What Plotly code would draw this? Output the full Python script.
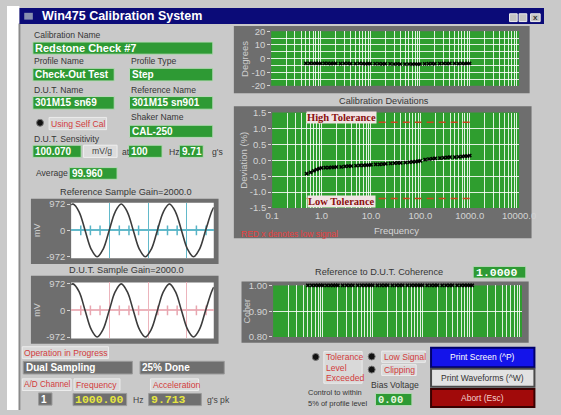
import plotly.graph_objects as go

W, H = 561, 415

# ---------------- data ----------------
freq_hz = [0.5, 0.6, 0.7, 0.8, 0.9, 1.0, 1.2, 1.4, 1.6, 1.8, 2.0, 2.5, 3.0, 3.5, 4.0,
           5.0, 6.0, 7.0, 8.0, 9.0, 10, 12.5, 15, 17.5, 20, 25, 30, 35, 40, 50, 60,
           70, 80, 90, 100, 125, 150, 175, 200, 250, 300, 350, 400, 500, 600, 700,
           800, 900, 1000]
deviation_pct = [-0.42, -0.38, -0.33, -0.29, -0.26, -0.24, -0.23, -0.23, -0.22, -0.22,
                 -0.21, -0.21, -0.19, -0.18, -0.18, -0.17, -0.16, -0.16, -0.15, -0.15,
                 -0.14, -0.13, -0.13, -0.12, -0.11, -0.10, -0.09, -0.08, -0.08, -0.07,
                 -0.06, -0.05, -0.04, -0.03, -0.02, 0.02, 0.04, 0.05, 0.06, 0.07, 0.08,
                 0.09, 0.10, 0.10, 0.11, 0.12, 0.13, 0.13, 0.15]
phase_deg = [-3.5, -3.5, -3.6, -3.5, -3.6, -3.6, -3.5, -3.6, -3.7, -3.6, -3.6, -3.7,
             -3.6, -3.6, -3.7, -3.7, -3.6, -3.7, -3.8, -3.7, -3.7, -3.8, -3.8, -3.9,
             -3.8, -3.9, -4.0, -3.9, -4.0, -4.1, -4.0, -4.1, -4.0, -4.1, -4.0, -3.9,
             -3.8, -3.7, -3.8, -3.7, -3.6, -3.7, -3.6, -3.6, -3.7, -3.6, -3.7, -3.6, -3.6]
coherence = [1.0] * 49
tol_freq_hz = [0.5, 1000]
tol_high_pct = [1.2, 1.2]
tol_low_pct = [-1.2, -1.2]

wave_t_ms = [0.00, 0.04, 0.165, 0.29, 0.415, 0.54, 0.665, 0.79, 0.915, 1.04, 1.165,
             1.29, 1.415, 1.54, 1.665, 1.79, 1.915, 2.04, 2.165, 2.29, 2.415, 2.54,
             2.665, 2.79, 2.915, 2.96]
ref_wave_mv = [942, 972, 687, 0, -687, -972, -687, 0, 687, 972, 687, 0, -687, -972,
               -687, 0, 687, 972, 687, 0, -687, -972, -687, 0, 687, 850]
dut_wave_mv = [942, 972, 687, 0, -687, -972, -687, 0, 687, 972, 687, 0, -687, -972,
               -687, 0, 687, 972, 687, 0, -687, -972, -687, 0, 687, 850]
wave_minor_tick_ms = [0.2, 0.4, 0.6, 1.0, 1.2, 1.4, 1.8, 2.0, 2.2, 2.6, 2.8]

freq_decades = [0.1, 1, 10, 100, 1000, 10000]
freq_tick_labels = ["0.1", "1.0", "10.0", "100.0", "1000.0", "10000.0"]
wave_tick_vals = [-972, 0, 972]
wave_tick_labels = ["-972", "0", "972"]

# ---------------- style ----------------
SANS = "Liberation Sans, Arial, sans-serif"
MONO = "Liberation Mono, Courier New, monospace"
SERIF = "Liberation Serif, Times New Roman, serif"
BG = "#c9c9c9"
FRAME = "#6e6e6e"
GREEN = "#2f9e2f"
BOXGREEN = "#2e9a34"
RED = "#d23c3c"
LABEL = "#363636"
LS = 8.6   # label font size
BS = 10    # box font size

def px(x):
    return x / W

def py(y):
    return 1 - y / H

shapes, annots = [], []

def rect(x0, y0, x1, y1, fill, line=None, lw=1):
    shapes.append(dict(type="rect", xref="paper", yref="paper", x0=px(x0), x1=px(x1),
                       y0=py(y1), y1=py(y0), fillcolor=fill,
                       line=dict(color=line or fill, width=lw if line else 0), layer="below"))

def circle(cx, cy, r, fill, line):
    shapes.append(dict(type="circle", xref="paper", yref="paper", x0=px(cx - r), x1=px(cx + r),
                       y0=py(cy + r), y1=py(cy - r), fillcolor=fill,
                       line=dict(color=line, width=1), layer="below"))

def text(x, y, s, size=LS, color=LABEL, anchor="left", bold=False, family=SANS, angle=0,
         bg=None):
    if bold:
        s = "<b>" + s + "</b>"
    d = dict(x=px(x), y=py(y), xref="paper", yref="paper", text=s, showarrow=False,
             xanchor=anchor, yanchor="middle", textangle=angle, borderpad=0,
             font=dict(size=size, color=color, family=family))
    if bg:
        d["bgcolor"] = bg
    annots.append(d)

def gbox(x0, y0, x1, y1, s, size=BS, color="white", family=SANS, fill=BOXGREEN, bold=True):
    rect(x0, y0, x1, y1, fill, "#b8d8b8" if fill == BOXGREEN else "#9a9a9a", 1)
    text(x0 + 1.5, (y0 + y1) / 2, s, size=size, color=color, bold=bold, family=family)

def redlabel(x0, y0, x1, y1, s, size=LS):
    rect(x0, y0, x1, y1, "#d9d9d9", "#ececec", 1)
    text(x0 + 1, (y0 + y1) / 2, s, size=size, color=RED)

# window chrome
rect(0, 0, 13, 415, "white")
rect(12, 18, 14, 415, "#8a8a8a")
rect(13, 2, 561, 18.5, "#0b0b78")
rect(18, 7, 27, 14, "#8890b0")
text(35, 10.5, "Win475 Calibration System", size=12.5, color="white", bold=True)
rect(525, 8, 533, 16, "#c4c4c4", "#eeeeee")
rect(535, 8, 543, 16, "#c4c4c4", "#eeeeee")
rect(547, 8, 557, 16, "#c4c4c4", "#eeeeee")
text(552, 12, "x", size=8, color="#333333", anchor="center", bold=True)

# left info panel
text(27, 29.5, "Calibration Name")
gbox(27, 37, 215, 49.5, "Redstone Check #7", size=11)
text(27, 57, "Profile Name")
text(129, 57, "Profile Type")
gbox(27, 64, 112, 77, "Check-Out Test")
gbox(128, 64, 215, 77, "Step")
text(27, 86, "D.U.T. Name")
text(129, 86, "Reference Name")
gbox(27, 93, 112, 106, "301M15 sn69")
gbox(128, 93, 215, 106, "301M15 sn901")
circle(34.5, 120, 3.6, "#111111", "#777777")
redlabel(44, 114.5, 104, 127, "Using Self Cal")
text(129, 114.5, "Shaker Name")
gbox(128, 122.5, 215, 135, "CAL-250")
text(27, 136.5, "D.U.T. Sensitivity")
gbox(27, 143, 77.5, 155.5, "100.070")
rect(80, 143, 115, 155.5, "#dcdcdc", "#eeeeee")
text(88, 149, "mV/g", color="#444444")
text(119, 150, "at")
gbox(127, 143, 162, 155.5, "100")
text(168, 150, "Hz")
gbox(180, 143, 205, 155.5, "9.71")
text(213, 150, "g's")
text(29, 171.5, "Average")
gbox(65, 166, 115, 178, "99.960")

# waveform frames
text(124.5, 191.5, "Reference Sample Gain=2000.0", size=9.2, anchor="center")
rect(25, 198, 221, 265, FRAME)
rect(67, 202, 216, 259, "white")
text(32, 230.5, "mV", size=9, color="#cccccc", anchor="center", angle=-90)
text(125, 271.5, "D.U.T. Sample Gain=2000.0", size=9.2, anchor="center")
rect(25, 277, 221, 347, FRAME)
rect(67, 284, 216, 341.5, "white")
text(32, 312.5, "mV", size=9, color="#cccccc", anchor="center", angle=-90)

# bottom-left status
redlabel(16, 350, 106, 362, "Operation in Progress")
gbox(17, 365, 131, 378, "Dual Sampling", fill="#6f6f6f")
gbox(139, 365, 227, 378, "25% Done", fill="#6f6f6f")
redlabel(16, 383, 67, 395, "A/D Channel", size=8.2)
redlabel(70, 383, 118, 395, "Frequency")
redlabel(150, 383, 200, 395, "Acceleration")
gbox(33, 397.5, 47, 410, "1", fill="#6f6f6f")
gbox(69, 398, 125, 410.5, "1000.00", size=11.5, color="#e6e640", family=MONO, fill="#6f6f6f")
text(131, 405, "Hz", color="#444444")
gbox(148, 398, 203, 410.5, "9.713", size=11.5, color="#e6e640", family=MONO, fill="#6f6f6f")
text(208, 405, "g's pk", color="#444444")

# right plots frames
rect(237, 20.5, 546, 89.5, FRAME)
rect(276, 26, 535, 82, GREEN)
text(248, 54, "Degrees", size=9.5, color="#cfcfcf", anchor="center", angle=-90)
text(394, 97.5, "Calibration Deviations", size=9.2, anchor="center")
rect(237, 103, 548, 238.5, FRAME)
rect(277, 109.5, 535, 207.5, GREEN)
text(247, 158.5, "Deviation (%)", size=9.5, color="#cfcfcf", anchor="center", angle=-90)
text(407, 230.5, "Frequency", size=9.5, color="#d6d6d6", anchor="center")
text(243, 234.5, "RED x denotes low signal", size=8.5, color="#ea4040")
text(349, 114.7, "High Tolerance", size=10.5, color="#8a0f0f", anchor="center", bold=True,
     family=SERIF, bg="#f1e4e4")
text(349, 200.5, "Low Tolerance", size=10.5, color="#8a0f0f", anchor="center", bold=True,
     family=SERIF, bg="#f1e4e4")
text(389, 273.5, "Reference to D.U.T. Coherence", size=9.2, anchor="center")
gbox(487, 267.5, 542, 279.5, "1.0000", size=11.5, family=MONO)
rect(245, 283, 545, 346, FRAME)
rect(278, 287, 538, 340, GREEN)
text(251, 313.5, "Coher", size=9, color="#cfcfcf", anchor="center", angle=-90)

# bottom-right indicators & buttons
circle(322.5, 360.5, 3.6, "#111111", "#777777")
rect(331, 355, 371, 387.5, "#d9d9d9", "#ececec", 1)
text(332, 361, "Tolerance", color=RED)
text(332, 371.5, "Level", color=RED)
text(332, 382, "Exceeded", color=RED)
circle(381, 360, 3.6, "#111111", "#777777")
redlabel(391.5, 354.5, 437, 366, "Low Signal")
circle(381, 373.5, 3.6, "#111111", "#777777")
redlabel(391.5, 368.5, 427.5, 379.5, "Clipping")
text(405, 389.5, "Bias Voltage", anchor="center")
text(313, 397.5, "Control to within", size=7.5)
text(313, 408.5, "5% of profile level", size=7.5)
gbox(385, 398, 423, 410.5, "0.00", size=10.5, family=MONO, color="#e8f8e0")
rect(443, 351, 551, 371, "#1414ea", "#00006a", 2)
text(497, 361, "Print Screen (^P)", size=8.5, color="white", anchor="center")
rect(443, 372.5, 551, 391, "#e2e2e2", "#4a4a4a", 2)
text(497, 381.8, "Print Waveforms (^W)", size=8.5, color="#333333", anchor="center")
rect(443, 393.5, 551, 412, "#a10a0a", "#3a0000", 2)
text(497, 402.8, "Abort (Esc)", size=8.5, color="#f4d0d0", anchor="center")

# ---------------- traces ----------------
mk = dict(symbol="x", size=3.8, color="black", line=dict(width=0))
tol_line = dict(color="#c8461c", width=1.5, dash="7px,5px")
traces = [
    go.Scatter(x=freq_hz, y=phase_deg, mode="markers", marker=mk, xaxis="x", yaxis="y"),
    go.Scatter(x=tol_freq_hz, y=tol_high_pct, mode="lines", xaxis="x2", yaxis="y2",
               line=tol_line),
    go.Scatter(x=tol_freq_hz, y=tol_low_pct, mode="lines", xaxis="x2", yaxis="y2",
               line=tol_line),
    go.Scatter(x=freq_hz, y=deviation_pct, mode="markers", marker=mk, xaxis="x2", yaxis="y2"),
    go.Scatter(x=freq_hz, y=coherence, mode="markers", marker=mk, xaxis="x3", yaxis="y3",
               cliponaxis=False),
    go.Scatter(x=wave_minor_tick_ms, y=[0] * len(wave_minor_tick_ms), mode="markers",
               xaxis="x4", yaxis="y4",
               marker=dict(symbol="line-ns", size=7, line=dict(color="#58b4c6", width=1.5))),
    go.Scatter(x=wave_t_ms, y=ref_wave_mv, mode="lines", xaxis="x4", yaxis="y4",
               line=dict(color="#3c3c3c", width=1.6, shape="spline")),
    go.Scatter(x=wave_minor_tick_ms, y=[0] * len(wave_minor_tick_ms), mode="markers",
               xaxis="x5", yaxis="y5",
               marker=dict(symbol="line-ns", size=7, line=dict(color="#e8a6b0", width=1.5))),
    go.Scatter(x=wave_t_ms, y=dut_wave_mv, mode="lines", xaxis="x5", yaxis="y5",
               line=dict(color="#3c3c3c", width=1.6, shape="spline")),
]
fig = go.Figure(traces)

grid_vals = [k * 10.0 ** n for n in range(-1, 4) for k in range(1, 10)] + [10000.0]
grid_text = [freq_tick_labels[freq_decades.index(v)] if v in freq_decades else "" for v in
             [round(g, 6) for g in grid_vals]]
tickfont = dict(size=9.5, color="#d4d4d4", family=SANS)
GRID = "rgba(255,255,255,0.85)"

def dom_x(a, b):
    return [px(a), px(b)]

def dom_y(a, b):
    return [py(b), py(a)]

def logx(a, b, anchor, labels=False):
    return dict(type="log", range=[-1, 4], domain=dom_x(a, b), anchor=anchor,
                tickvals=grid_vals, ticktext=grid_text if labels else [""] * len(grid_vals),
                showgrid=True, gridcolor=GRID, gridwidth=1, zeroline=False, showline=False,
                ticks="", tickfont=tickfont, fixedrange=True)

def liny(a, b, rng, vals, txt, anchor, minor=None):
    d = dict(range=rng, domain=dom_y(a, b), anchor=anchor, tickvals=vals, ticktext=txt,
             showgrid=True, gridcolor=GRID, gridwidth=1, zeroline=False, showline=False,
             ticks="outside", ticklen=3, tickcolor="#d4d4d4", tickfont=tickfont,
             fixedrange=True)
    if minor:
        d["minor"] = dict(tickvals=minor, showgrid=True, gridcolor=GRID, ticks="")
    return d

def wavex(a, b, anchor, gc):
    return dict(range=[0, 2.96], domain=dom_x(a, b), anchor=anchor, tick0=0, dtick=0.8,
                showgrid=True, gridcolor=gc, gridwidth=1.2, zeroline=False,
                showticklabels=False, ticks="", showline=False, fixedrange=True)

def wavey(a, b, anchor, gc):
    return dict(range=[-1024, 1024], domain=dom_y(a, b), anchor=anchor,
                tickvals=wave_tick_vals, ticktext=wave_tick_labels, showgrid=False,
                zeroline=True, zerolinecolor=gc, zerolinewidth=1.5, ticks="outside",
                ticklen=3, tickcolor="#d4d4d4", tickfont=tickfont, showline=False,
                fixedrange=True)

fig.update_layout(
    width=W, height=H, margin=dict(l=0, r=0, t=0, b=0), autosize=False,
    paper_bgcolor=BG, plot_bgcolor="rgba(0,0,0,0)", showlegend=False, hovermode=False,
    shapes=shapes, annotations=annots,
    xaxis=logx(276, 535, "y"),
    yaxis=liny(26, 82, [-20, 20], [-20, -10, 0, 10, 20], ["-20", "-10", "0", "10", "20"],
               "x", minor=[-15, -5, 5, 15]),
    xaxis2=logx(277, 535, "y2", labels=True),
    yaxis2=liny(109.5, 207.5, [-1.5, 1.5], [-1.5, -1.0, -0.5, 0, 0.5, 1.0, 1.5],
                ["-1.5", "-1.0", "-0.5", "0.0", "0.5", "1.0", "1.5"], "x2"),
    xaxis3=logx(278, 538, "y3"),
    yaxis3=liny(287, 340, [0.8, 1.0], [0.8, 0.9, 1.0], ["0.80", "0.90", "1.00"], "x3"),
    xaxis4=wavex(67, 216, "y4", "#62b9ca"),
    yaxis4=wavey(202, 259, "x4", "#62b9ca"),
    xaxis5=wavex(67, 216, "y5", "#ecb4bc"),
    yaxis5=wavey(284, 341.5, "x5", "#ecb4bc"),
)

fig.write_html("out.html", config={"displayModeBar": False},
               post_script="document.body.style.margin='0';document.body.style.overflow='hidden';")
